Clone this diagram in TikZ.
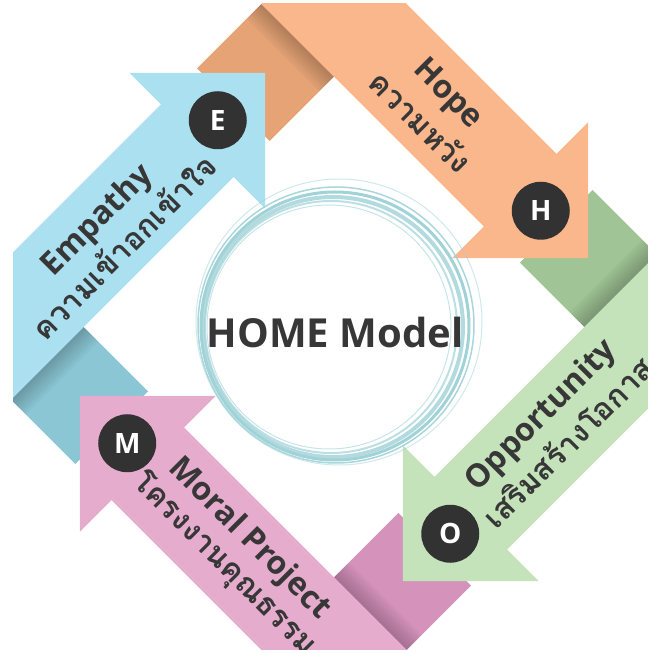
\documentclass[tikz,border=0pt]{standalone}
\usepackage{fontspec}
\setmainfont{Open Sans}
\newfontfamily\thaifont[Script=Thai]{Loma}
\usetikzlibrary{calc}

\definecolor{bluelight}{RGB}{170,224,239}
\definecolor{bluedark}{RGB}{139,198,212}
\definecolor{orangelight}{RGB}{250,183,140}
\definecolor{orangedark}{RGB}{229,163,118}
\definecolor{greenlight}{RGB}{197,227,187}
\definecolor{greendark}{RGB}{160,196,150}
\definecolor{pinklight}{RGB}{230,172,206}
\definecolor{pinkdark}{RGB}{213,146,187}
\definecolor{textgray}{RGB}{55,55,55}
\definecolor{badgegray}{RGB}{50,50,50}
\definecolor{ringteal}{RGB}{160,210,215}

\begin{document}
\begin{tikzpicture}[x=1pt, y=1pt,
  engtext/.style = {text=textgray, inner sep=0pt, font=\fontsize{32}{32}\selectfont\bfseries},
  thaitext/.style = {text=textgray, inner sep=0pt, font=\thaifont\fontsize{31}{31}\selectfont\bfseries},
  badge/.style = {circle, fill=badgegray, text=white, minimum size=58pt, inner sep=0pt, font=\fontsize{28}{28}\selectfont\bfseries},
  ring/.style = {draw=ringteal}]

\useasboundingbox (0,0) rectangle (648,654);
\clip (13,4) rectangle (648,650);
\coordinate (C) at (334,327);

% folded tails first, they sit under the heads
\foreach \ang/\dark in {45/bluedark, -45/orangedark, -135/greendark, 135/pinkdark} {
  \begin{scope}[shift={(C)}, rotate=\ang]
    \fill[\dark] (-279.7,86) rectangle (-177.1,177.1);
    \foreach \w in {3,6,...,21}
      \fill[black, opacity=0.03] (-279.7,177.1-\w) rectangle (-177.1,177.1);
  \end{scope}
}

% ribbons with arrow heads
\foreach \ang/\light in {45/bluelight, -45/orangelight, -135/greenlight, 135/pinklight} {
  \begin{scope}[shift={(C)}, rotate=\ang]
    \fill[\light] (-279.7,177.1) -- (35,177.1) -- (35,132.4) -- (131,228.4)
      -- (35,324.4) -- (35,279.7) -- (-279.7,279.7) -- cycle;
  \end{scope}
}

% rings round the title
\draw[ring, line width=1.5pt, opacity=.9] (336,329) circle (138pt);
\draw[ring, line width=3pt] (335,328) circle (134pt);
\draw[ring, line width=4pt, opacity=.8] (333,327) circle (130pt);
\draw[ring, line width=2pt, opacity=.7] (331,327) circle (126pt);
\draw[ring, line width=1pt, opacity=.6] (329,327) circle (122pt);
\draw[ring, line width=1pt, opacity=.5] (339,332) circle (143pt);

\node[text=textgray, font=\fontsize{40}{40}\selectfont\bfseries] (title) at ($(C)+(1,-6)$) {HOME Model};

% Empathy
\begin{scope}[shift={(C)}, rotate=45]
\node[engtext, rotate=45] (emp) at (-92,242) {Empathy};
\node[thaitext, rotate=45] (empth) at (-92,206) {ความเข้าอกเข้าใจ};
\node[badge] (E) at (64,228.4) {E};
\end{scope}

% Hope
\begin{scope}[shift={(C)}, rotate=-45]
\node[engtext, rotate=-45] (hope) at (-84,244) {Hope};
\node[thaitext, rotate=-45] (hopeth) at (-84,207) {ความหวัง};
\node[badge] (H) at (64,228.4) {H};
\end{scope}

% Opportunity
\begin{scope}[shift={(C)}, rotate=-135]
\node[engtext, rotate=45] (opp) at (-84,210) {Opportunity};
\node[thaitext, rotate=45] (oppth) at (-84,246) {เสริมสร้างโอกาส};
\node[badge] (O) at (64,228.4) {O};
\end{scope}

% Moral Project
\begin{scope}[shift={(C)}, rotate=135]
\node[engtext, rotate=-45] (moral) at (-90,210) {Moral Project};
\node[thaitext, rotate=-45] (moralth) at (-90,246) {โครงงานคุณธรรม};
\node[badge] (M) at (64,228.4) {M};
\end{scope}
\end{tikzpicture}
\end{document}
